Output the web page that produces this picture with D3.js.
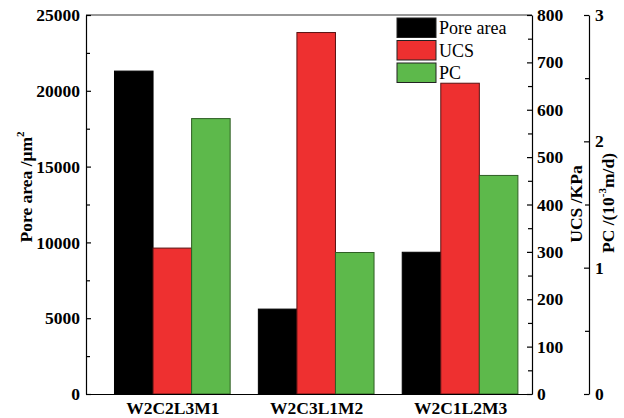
<!DOCTYPE html>
<html>
<head>
<meta charset="utf-8">
<script src="https://cdn.jsdelivr.net/npm/d3@7"></script>
<style>
body { margin: 0; background: #fff; }
text { font-family: "Liberation Serif", "Times New Roman", serif; }
</style>
</head>
<body>
<div id="chart"></div>
<script>
var categories = ["W2C2L3M1", "W2C3L1M2", "W2C1L2M3"];
var poreArea = [21300, 5600, 9350];
var ucs = [308, 763, 656];
var pc = [2.18, 1.12, 1.73];
var seriesNames = ["Pore area", "UCS", "PC"];
var fills = ["#000000", "#ee3030", "#5db94b"];
var strokes = ["#000000", "#5a1212", "#2f5f24"];

var w = 624, h = 418;
var plotLeft = 86, plotRight = 532, plotTop = 15, plotBottom = 394;
var pcAxisX = 589;
var fs = 17.5;

var svg = d3.select("#chart").append("svg")
    .attr("width", w)
    .attr("height", h);

var x = d3.scaleLinear().domain([0.4, 3.5]).range([plotLeft, plotRight]);
var yPore = d3.scaleLinear().domain([0, 25000]).range([plotBottom, plotTop]);
var yUcs = d3.scaleLinear().domain([0, 800]).range([plotBottom, plotTop]);
var yPc = d3.scaleLinear().domain([0, 3]).range([plotBottom, plotTop]);

var step = x(2) - x(1);
var barW = step * 0.268;

var series = [
    { vals: poreArea, y: yPore },
    { vals: ucs, y: yUcs },
    { vals: pc, y: yPc }
];

series.forEach(function (s, si) {
    svg.selectAll(".bar" + si)
        .data(s.vals)
        .enter()
        .append("rect")
        .attr("x", function (d, i) { return x(i + 1) + (si - 1.5) * barW; })
        .attr("y", function (d) { return s.y(d); })
        .attr("width", barW)
        .attr("height", function (d) { return plotBottom - s.y(d); })
        .attr("fill", fills[si])
        .attr("stroke", strokes[si])
        .attr("stroke-width", 1);
});

// frame top
svg.append("line")
    .attr("x1", plotLeft).attr("x2", plotRight)
    .attr("y1", plotTop).attr("y2", plotTop)
    .attr("stroke", "#333").attr("stroke-width", 1.2);

function styleAxis(g) {
    g.select(".domain").attr("stroke", "#000").attr("stroke-width", 1.2);
    g.selectAll(".tick line").attr("stroke", "#000").attr("stroke-width", 1.2);
    g.selectAll(".tick text")
        .attr("font-size", fs)
        .attr("font-weight", "bold")
        .attr("fill", "#000");
}

function minorAxis(g, axisGen) {
    g.call(axisGen);
    g.select(".domain").remove();
    g.selectAll(".tick text").remove();
    g.selectAll(".tick line").attr("stroke", "#000").attr("stroke-width", 1.2);
}

// left axis
var gl = svg.append("g").attr("transform", "translate(" + plotLeft + ",0)");
gl.call(d3.axisLeft(yPore).tickValues([0, 5000, 10000, 15000, 20000, 25000])
    .tickSizeInner(-5).tickSizeOuter(0).tickPadding(6).tickFormat(d3.format("d")));
styleAxis(gl);
minorAxis(svg.append("g").attr("transform", "translate(" + plotLeft + ",0)"),
    d3.axisLeft(yPore).tickValues([2500, 7500, 12500, 17500, 22500]).tickSize(-4));

// bottom axis
var gb = svg.append("g").attr("transform", "translate(0," + plotBottom + ")");
gb.call(d3.axisBottom(x).tickValues([1, 2, 3]).tickSize(0).tickPadding(8)
    .tickFormat(function (d) { return categories[d - 1]; }));
styleAxis(gb);

// UCS axis
var gr = svg.append("g").attr("transform", "translate(" + plotRight + ",0)");
gr.call(d3.axisRight(yUcs).tickValues(d3.range(0, 801, 100))
    .tickSizeInner(-5).tickSizeOuter(0).tickPadding(5));
styleAxis(gr);
minorAxis(svg.append("g").attr("transform", "translate(" + plotRight + ",0)"),
    d3.axisRight(yUcs).tickValues(d3.range(50, 800, 100)).tickSize(-4));

// PC axis
var gp = svg.append("g").attr("transform", "translate(" + pcAxisX + ",0)");
gp.call(d3.axisRight(yPc).tickValues([0, 1, 2, 3])
    .tickSizeInner(-5).tickSizeOuter(0).tickPadding(6).tickFormat(d3.format("d")));
styleAxis(gp);
minorAxis(svg.append("g").attr("transform", "translate(" + pcAxisX + ",0)"),
    d3.axisRight(yPc).tickValues([0.5, 1.5, 2.5]).tickSize(-4));

// axis titles
var t1 = svg.append("text")
    .attr("transform", "translate(32,187) rotate(-90)")
    .attr("text-anchor", "middle")
    .attr("font-size", fs).attr("font-weight", "bold");
t1.append("tspan").text("Pore area /μm");
t1.append("tspan").attr("dy", -8).attr("font-size", 11).text("2");

svg.append("text")
    .attr("transform", "translate(582,204) rotate(-90)")
    .attr("text-anchor", "middle")
    .attr("font-size", fs).attr("font-weight", "bold")
    .text("UCS /KPa");

var t3 = svg.append("text")
    .attr("transform", "translate(614,203) rotate(-90)")
    .attr("text-anchor", "middle")
    .attr("font-size", fs).attr("font-weight", "bold");
t3.append("tspan").text("PC /(10");
t3.append("tspan").attr("dy", -8).attr("font-size", 11).text("-3");
t3.append("tspan").attr("dy", 8).text("m/d)");

// legend
var lg = svg.append("g").attr("transform", "translate(397,18)");
seriesNames.forEach(function (n, i) {
    lg.append("rect")
        .attr("x", 0).attr("y", i * 22.5)
        .attr("width", 39).attr("height", 19.5)
        .attr("fill", fills[i])
        .attr("stroke", "#222").attr("stroke-width", 1);
    lg.append("text")
        .attr("x", 42).attr("y", i * 22.5 + 16)
        .attr("font-size", 18)
        .text(n);
});
</script>
</body>
</html>
